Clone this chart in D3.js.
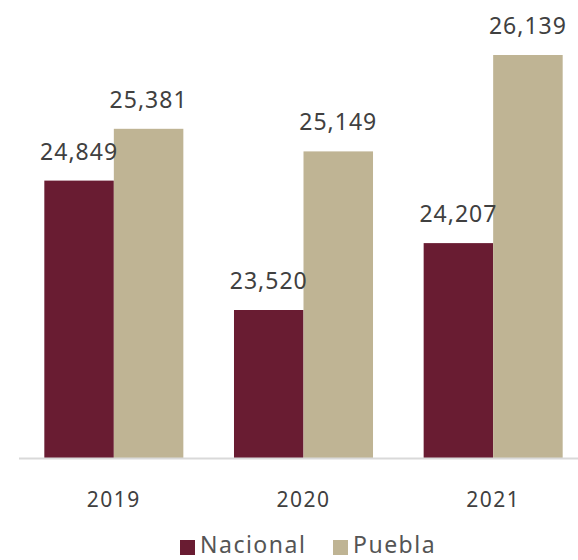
<!DOCTYPE html>
<html><head><meta charset="utf-8">
<script src="https://cdn.jsdelivr.net/npm/d3@7"></script>
<style>body{margin:0;background:#fff}svg{display:block}text{font-family:"Noto Sans",sans-serif}</style>
</head><body><svg id="c" width="578" height="560"></svg>
<script>
const years = ["2019","2020","2021"];
const seriesNames = ["Nacional","Puebla"];
const nacional = [24849, 23520, 24207];
const puebla = [25381, 25149, 26139];
const colors = ["#691c32","#bfb494"];

const svg = d3.select("#c");
const baseY = 458, topY = 55;
const x0 = d3.scaleBand().domain(years).range([19, 588]).paddingInner(0.267).paddingOuter(0.1335);
const x1 = d3.scaleBand().domain(seriesNames).range([0, x0.bandwidth()]);
const y = d3.scaleLinear().domain([22000, 26139]).range([baseY, topY]);
const color = d3.scaleOrdinal().domain(seriesNames).range(colors);

const data = years.map((yr,i)=>({year:yr, values:[{k:"Nacional",v:nacional[i]},{k:"Puebla",v:puebla[i]}]}));
const fmt = d3.format(",");

const g = svg.selectAll("g.grp").data(data).join("g").attr("class","grp")
  .attr("transform", d=>`translate(${x0(d.year)},0)`);
g.selectAll("rect").data(d=>d.values).join("rect")
  .attr("x", d=>x1(d.k)).attr("width", x1.bandwidth())
  .attr("y", d=>y(d.v)).attr("height", d=>baseY - y(d.v))
  .attr("fill", d=>color(d.k));
g.selectAll("text").data(d=>d.values).join("text")
  .attr("x", d=>x1(d.k)+x1.bandwidth()/2).attr("y", d=>y(d.v)-21)
  .attr("text-anchor","middle").attr("font-size",23).attr("letter-spacing",1).attr("fill","#404040")
  .text(d=>fmt(d.v));

const xAxis = svg.append("g").attr("transform",`translate(0,${baseY})`)
  .call(d3.axisBottom(x0).tickSize(0).tickPadding(0));
xAxis.select(".domain").attr("d", `M19,0.5H578`).attr("stroke","#d9d9d9").attr("stroke-width",2);
xAxis.selectAll(".tick text").attr("y", 49).attr("dy",0).attr("font-size",21).attr("letter-spacing",1.5)
  .attr("fill","#404040").attr("font-family",'"Noto Sans",sans-serif');

const leg = svg.append("g");
const legX = [180, 333];
seriesNames.forEach((s,i)=>{
  leg.append("rect").attr("x",legX[i]).attr("y",540).attr("width",15).attr("height",15).attr("fill",colors[i]);
  leg.append("text").attr("x",legX[i]+20).attr("y",553).attr("font-size",23).attr("letter-spacing",1.5).attr("fill","#555").text(s);
});
</script></body></html>
